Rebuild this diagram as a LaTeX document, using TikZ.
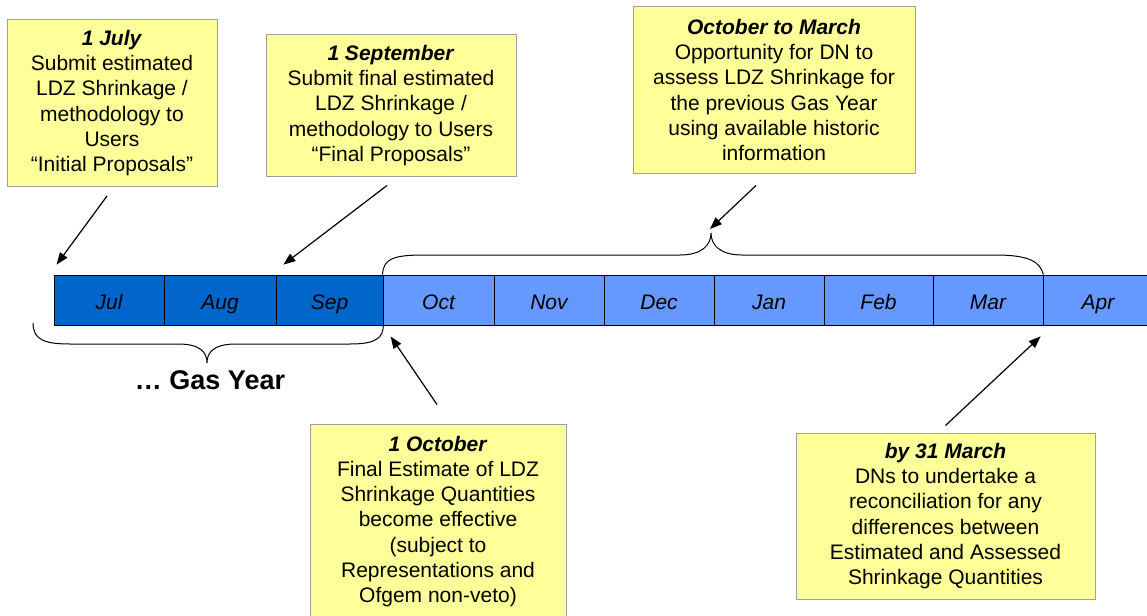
\documentclass[tikz,border=0pt]{standalone}
\usepackage{fontspec}
\setmainfont{Liberation Sans}
\usetikzlibrary{arrows.meta,calc}
\definecolor{boxfill}{HTML}{FFFF99}
\definecolor{boxline}{HTML}{A0A0A0}
\definecolor{darkmonth}{HTML}{0066CC}
\definecolor{lightmonth}{HTML}{6699FF}
\begin{document}
\begin{tikzpicture}[x=1pt,y=-1pt,
  box/.style={draw=boxline, fill=boxfill, line width=1pt, align=center, inner sep=0pt,
    font=\fontsize{21}{25.3}\selectfont},
  month/.style={draw=black, line width=0.8pt, minimum height=50pt, inner sep=0pt,
    text height=20pt, text depth=2pt,
    font=\fontsize{21}{25}\selectfont\itshape},
  arr/.style={-{Triangle[length=12pt,width=9pt]}, line width=1.2pt},
  brace/.style={line width=1pt}]
\clip (0,0) rectangle (1147,615);
\fill[white] (0,0) rectangle (1147,615);

% months
\node[month, fill=darkmonth, minimum width=110pt] (jul) at (109,300) {Jul};
\node[month, fill=darkmonth, minimum width=112pt] (aug) at (220,300) {Aug};
\node[month, fill=darkmonth, minimum width=107pt] (sep) at (329.5,300) {Sep};
\node[month, fill=lightmonth, minimum width=111pt] (oct) at (438.5,300) {Oct};
\node[month, fill=lightmonth, minimum width=110pt] (nov) at (549,300) {Nov};
\node[month, fill=lightmonth, minimum width=110pt] (dec) at (659,300) {Dec};
\node[month, fill=lightmonth, minimum width=110pt] (jan) at (769,300) {Jan};
\node[month, fill=lightmonth, minimum width=109pt] (feb) at (878.5,300) {Feb};
\node[month, fill=lightmonth, minimum width=110pt] (mar) at (988,300) {Mar};
\node[month, fill=lightmonth, minimum width=110pt] (apr) at (1098,300) {Apr};

% boxes
\node[box, minimum width=210pt, minimum height=167pt] (b1) at (112,103)
  {\textbf{\textit{1 July}}\\Submit estimated\\LDZ Shrinkage /\\methodology to\\Users\\“Initial Proposals”};
\node[box, minimum width=250pt, minimum height=141pt] (b2) at (391,105.5)
  {\textbf{\textit{1 September}}\\Submit final estimated\\LDZ Shrinkage /\\methodology to Users\\“Final Proposals”};
\node[box, minimum width=282pt, minimum height=166pt] (b3) at (774,90)
  {\textbf{\textit{October to March}}\\Opportunity for DN to\\assess LDZ Shrinkage for\\the previous Gas Year\\using available historic\\information};
\node[box, minimum width=256pt, minimum height=195pt] (b4) at (438,521.5)
  {\textbf{\textit{1 October}}\\Final Estimate of LDZ\\Shrinkage Quantities\\become effective\\(subject to\\Representations and\\Ofgem non-veto)};
\node[box, minimum width=299pt, minimum height=166pt] (b5) at (945.5,516)
  {\textbf{\textit{by 31 March}}\\DNs to undertake a\\reconciliation for any\\differences between\\Estimated and Assessed\\Shrinkage Quantities};

% braces
\coordinate (toptip) at (711,233);
\draw[brace] (oct.north west) .. controls (383,258) and (395,255) .. (425,255)
  -- (680,255) .. controls (702,255) and (711,245) .. (toptip)
  .. controls (711,245) and (720,255) .. (742,255)
  -- (995,255) .. controls (1030,255) and (1040,262) .. (mar.north east);
\coordinate (bottip) at (207,363);
\coordinate (botleft) at (33,323);
\draw[brace] (botleft) .. controls (33,340) and (45,344) .. (70,344)
  -- (178,344) .. controls (200,344) and (207,352) .. (bottip)
  .. controls (207,352) and (214,344) .. (236,344)
  -- (350,344) .. controls (376,344) and (383,338) .. (sep.south east);
\node[font=\fontsize{27}{32}\selectfont\bfseries] (gy) at (210,380) {… Gas Year};

% arrows
\draw[arr] ($(b1.south)+(-5,9)$) -- ($(jul.north west)+(3,-10)$);
\draw[arr] ($(b2.south)+(-4,9)$) -- ($(aug.north east)+(7,-10)$);
\draw[arr] ($(b3.south)+(-18,12)$) -- ($(toptip)+(-1,-4)$);
\draw[arr] ($(b4.north)+(-1,-19)$) -- ($(oct.south west)+(8,11)$);
\draw[arr] ($(b5.north)+(0,-7)$) -- ($(apr.south west)+(-2,11)$);
\end{tikzpicture}
\end{document}
